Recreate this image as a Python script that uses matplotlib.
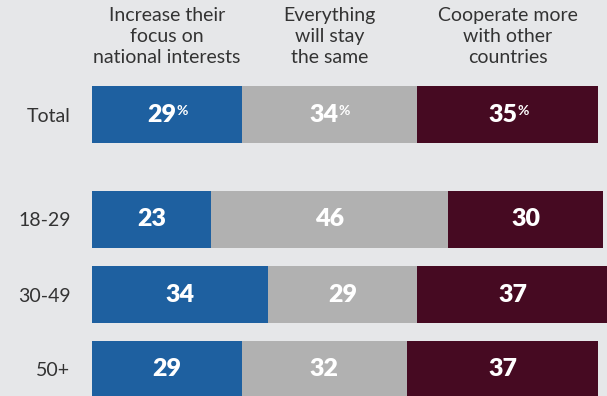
import numpy as np
import matplotlib.pyplot as plt
import matplotlib.transforms as mtransforms

plt.rcParams['font.family'] = ['Lato', 'DejaVu Sans']

# survey answers, percent
groups = ['Total', '18-29', '30-49', '50+']
focus_national = [29, 23, 34, 29]
stay_same = [34, 46, 29, 32]
cooperate_more = [35, 30, 37, 37]

answers = ['Increase their\nfocus on\nnational interests',
           'Everything\nwill stay\nthe same',
           'Cooperate more\nwith other\ncountries']
colors = ['#1e60a0', '#b1b1b1', '#460a22']

BG = '#e6e7e9'
TEXT = '#333333'

W, H = 607, 396
fig = plt.figure(figsize=(W / 100, H / 100), dpi=100, facecolor=BG)
ax = fig.add_axes([92 / W, 0, (W - 92) / W, 1])
ax.set_facecolor(BG)

# row layout: Total sits apart from the age groups
row_y = np.array([0, 1.4, 2.4, 3.4])
bar_h = 0.76
px_per_row = 75.0
top_px = 114.5  # centre of the Total row measured from the top

series = [focus_national, stay_same, cooperate_more]
left = np.zeros(len(groups))
for vals, col in zip(series, colors):
    vals = np.array(vals, dtype=float)
    ax.barh(row_y, vals, left=left, height=bar_h, color=col, linewidth=0)
    for i, (l, v) in enumerate(zip(left, vals)):
        cx = l + v / 2
        if i == 0:
            t = ax.text(cx - 1.0, row_y[i], f'{int(v)}', ha='center', va='center',
                        color='white', fontsize=18, fontweight='heavy')
            ax.annotate('%', xy=(1.0, 0.92), xycoords=t, ha='left', va='top',
                        color='white', fontsize=10, fontweight='bold')
        else:
            ax.text(cx, row_y[i], f'{int(v)}', ha='center', va='center',
                    color='white', fontsize=18, fontweight='heavy')
    left += vals

# column headers centred over the Total segments
trans = mtransforms.blended_transform_factory(ax.transData, ax.transAxes)
line_base = [20.7, 41.7, 63.0]
starts = [0, focus_national[0], focus_national[0] + stay_same[0]]
for label, s, v in zip(answers, starts, [focus_national[0], stay_same[0], cooperate_more[0]]):
    for line, by in zip(label.split('\n'), line_base):
        ax.text(s + v / 2, 1 - by / H, line, transform=trans, ha='center',
                va='baseline', fontsize=14, color=TEXT)

ax.set_xlim(0, (W - 92) / 5.165)
ax.set_ylim((H - top_px) / px_per_row, -top_px / px_per_row)
ax.set_yticks(row_y, groups)
ax.tick_params(axis='y', length=0, pad=15.5, labelsize=14, labelcolor=TEXT)
ax.set_xticks([])
for sp in ax.spines.values():
    sp.set_visible(False)

fig.savefig('out.png', dpi=100, facecolor=BG)
